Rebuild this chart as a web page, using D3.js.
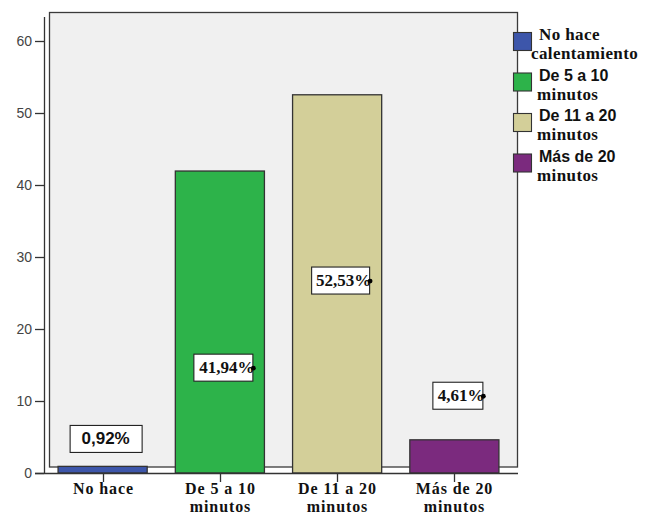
<!DOCTYPE html>
<html>
<head>
<meta charset="utf-8">
<script src="https://cdn.jsdelivr.net/npm/d3@7"></script>
<style>
  html, body { margin: 0; padding: 0; background: #ffffff; }
  svg { display: block; }
</style>
</head>
<body>
<svg id="chart" width="662" height="518"></svg>
<script>
// Warm-up duration categories and their share of respondents (%)
const categories = ["No hace", "De 5 a 10 minutos", "De 11 a 20 minutos", "Más de 20 minutos"];
const axisLabelLines = [["No hace"], ["De 5 a 10", "minutos"], ["De 11 a 20", "minutos"], ["Más de 20", "minutos"]];
const legendLabelLines = [["No hace", "calentamiento"], ["De 5 a 10", "minutos"], ["De 11 a 20", "minutos"], ["Más de 20", "minutos"]];
const percentValues = [0.92, 41.94, 52.53, 4.61];
const yTicks = [0, 10, 20, 30, 40, 50, 60];
const barColors = ["#3d56aa", "#2db34a", "#d3cf99", "#7b2a7e"];

// Value label placement (y in data units, box widths in px)
const labelAnchorY = [4.8, 14.7, 26.8, 10.8];
const labelBoxW = [72, 59, 58, 50];

const svg = d3.select("#chart");
const serif = "'Liberation Serif', 'Times New Roman', serif";
const sans = "'Liberation Sans', Arial, sans-serif";

const y = d3.scaleLinear().domain([0, 60]).range([473, 41]);
const x = d3.scaleBand().domain(categories).range([44, 513]).paddingInner(0.24).paddingOuter(0.12);

// Plot frame
svg.append("rect")
  .attr("x", 49.5).attr("y", 12.5).attr("width", 468).attr("height", 454.5)
  .attr("fill", "#f0f0f0").attr("stroke", "#3a3a3a").attr("stroke-width", 1.3);

// Y axis
const yAxis = d3.axisLeft(y).tickValues(yTicks).tickSize(9).tickPadding(3).tickFormat(d3.format("d"));
const gy = svg.append("g").attr("transform", "translate(44,0)").call(yAxis);
gy.select(".domain").attr("d", "M0.5,17V473.5").attr("stroke", "#333").attr("stroke-width", 1.3);
gy.selectAll(".tick line").attr("stroke", "#333").attr("stroke-width", 1.3);
gy.selectAll(".tick text").attr("font-family", sans).attr("font-size", 14).attr("fill", "#444");

// Bars
svg.append("g").selectAll("rect").data(percentValues).join("rect")
  .attr("x", (d, i) => x(categories[i]))
  .attr("width", x.bandwidth())
  .attr("y", d => y(d))
  .attr("height", d => y(0) - y(d))
  .attr("fill", (d, i) => barColors[i])
  .attr("stroke", "#333").attr("stroke-width", 1.3);

// X axis baseline and ticks
svg.append("line").attr("x1", 35).attr("x2", 518).attr("y1", 473.5).attr("y2", 473.5)
  .attr("stroke", "#333").attr("stroke-width", 1.3);
const gx = svg.append("g");
categories.forEach((c, i) => {
  const cx = Math.round(x(c) + x.bandwidth() / 2) + 0.5;
  gx.append("line").attr("x1", cx).attr("x2", cx).attr("y1", 473).attr("y2", 482)
    .attr("stroke", "#333").attr("stroke-width", 1.3);
  axisLabelLines[i].forEach((line, k) => {
    gx.append("text").attr("text-anchor", "middle")
      .attr("x", cx).attr("y", 494 + k * 18)
      .attr("font-family", serif).attr("font-weight", "bold").attr("font-size", 16)
      .attr("letter-spacing", 0.9).attr("fill", "#111")
      .text(line);
  });
});

// Value labels
const defs = svg.append("defs");
percentValues.forEach((v, i) => {
  const cx = x(categories[i]) + x.bandwidth() / 2 + 3;
  const cy = y(labelAnchorY[i]);
  const w = labelBoxW[i], h = 27;
  const bx = cx - w / 2, by = cy - h / 2;
  const g = svg.append("g");
  g.append("rect").attr("x", bx + 0.5).attr("y", by + 0.5).attr("width", w).attr("height", h)
    .attr("fill", "#fff").attr("stroke", "#222").attr("stroke-width", 1.1);
  const txt = d3.format(".2f")(v).replace(".", ",") + "%";
  if (i === 0) {
    g.append("text").attr("x", cx).attr("y", cy + 6).attr("text-anchor", "middle")
      .attr("font-family", sans).attr("font-weight", "bold").attr("font-size", 17)
      .attr("fill", "#111").text(txt);
  } else {
    const id = "clip" + i;
    defs.append("clipPath").attr("id", id).append("rect")
      .attr("x", bx + 1).attr("y", by).attr("width", w + 4).attr("height", h);
    g.append("text").attr("x", bx + w + 2).attr("y", cy + 6).attr("text-anchor", "end")
      .attr("clip-path", "url(#" + id + ")")
      .attr("font-family", serif).attr("font-weight", "bold").attr("font-size", 17)
      .attr("fill", "#111").text(txt);
    g.append("circle").attr("cx", bx + w + 1).attr("cy", cy + 1).attr("r", 2.4).attr("fill", "#000");
  }
});

// Legend
const legend = svg.append("g");
categories.forEach((c, i) => {
  const top = 32 + i * 40.5;
  legend.append("rect").attr("x", 513.5).attr("y", top + 0.5).attr("width", 18).attr("height", 18)
    .attr("fill", barColors[i]).attr("stroke", "#333").attr("stroke-width", 1.1);
  const lines = legendLabelLines[i];
  lines.forEach((line, k) => {
    const firstSans = (k === 0 && i > 0);
    legend.append("text")
      .attr("x", k === 0 ? 539 : (i === 0 ? 531 : 537))
      .attr("y", top + 8 + k * 19)
      .attr("font-family", firstSans ? sans : serif)
      .attr("font-weight", "bold")
      .attr("font-size", firstSans ? 16 : 17)
      .attr("letter-spacing", firstSans ? 0 : 0.4)
      .attr("fill", "#111")
      .text(line);
  });
});
</script>
</body>
</html>
